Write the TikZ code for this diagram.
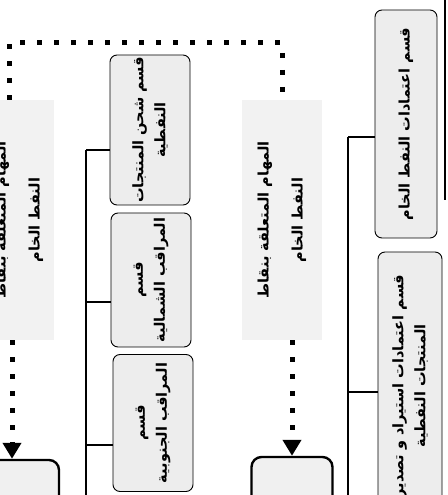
\documentclass[tikz,border=0pt]{standalone}
\usepackage{fontspec}
\newfontfamily\arabicfont[Script=Arabic]{DejaVu Sans}
\TeXXeTstate=1
\usetikzlibrary{arrows.meta}

\tikzset{
    section/.style={draw, line width=0.9pt, rounded corners=7pt, fill=black!7, rotate=90, align=center, inner sep=2pt, font=\arabicfont\bfseries\fontsize{14.5}{22}\selectfont},
    task/.style={fill=black!5, rotate=90, align=center, inner sep=2pt, font=\arabicfont\bfseries\fontsize{14.5}{34}\selectfont},
    unit/.style={draw, line width=2.4pt, rounded corners=10pt, fill=black!6},
    link/.style={line width=1.6pt},
    dotline/.style={line width=5pt, dash pattern=on 5pt off 12pt},
    dotarrow/.style={dotline, -{Triangle[width=18pt,length=16pt]}}
}

\begin{document}
\begin{tikzpicture}[x=1pt, y=1pt]
    \useasboundingbox (0,0) rectangle (447,495);
    \clip (0,0) rectangle (447,495);

    % Right column
    \node[section, minimum width=228pt, minimum height=62pt] (crude) at (406,371) {\beginR قسم اعتمادات النفط الخام\endR};
    \node[section, minimum width=268pt, minimum height=64pt] (imports) at (410,109) {\beginR قسم اعتمادات استيراد و تصدير\endR \\ \beginR المنتجات النفطية\endR};
    \coordinate (rtop) at (348,358);
    \coordinate (rmid) at (348,103);
    \coordinate (rend) at (348,-5);
    \draw[link] (rtop) -- (rend);
    \draw[link] (rtop) -- (rtop -| crude.north);
    \draw[link] (rmid) -- (rmid -| imports.north);
    \draw[line width=2pt] (445,495) -- (445,295);

    % Middle column
    \node[section, minimum width=150pt, minimum height=80pt] (shipping) at (150,365) {\beginR قسم شحن المنتجات\endR \\ \beginR النفطية\endR};
    \node[section, minimum width=134pt, minimum height=80pt] (north) at (151,215) {\beginR قسم\endR \\ \beginR المراقب الشمالية\endR};
    \node[section, minimum width=137pt, minimum height=80pt] (south) at (153,72) {\beginR قسم\endR \\ \beginR المراقب الجنوبية\endR};
    \coordinate (mtop) at (86,345);
    \coordinate (mtwo) at (86,193);
    \coordinate (mthree) at (86,50);
    \coordinate (mend) at (86,-5);
    \draw[link] (mtop) -- (mend);
    \draw[link] (mtop) -- (mtop -| shipping.north);
    \draw[link] (mtwo) -- (mtwo -| north.north);
    \draw[link] (mthree) -- (mthree -| south.north);

    % Tasks
    \node[task, minimum width=240pt, minimum height=80pt] (midtask) at (282,275) {\beginR المهام المتعلقة بنقاط\endR \\ \beginR النفط الخام\endR};
    \node[task, minimum width=240pt, minimum height=70pt] (lefttask) at (19,275) {\beginR المهام المتعلقة بنقاط\endR \\ \beginR النفط الخام\endR};
    \node[unit, minimum width=81pt, minimum height=70pt] (midunit) at (292,3) {};
    \node[unit, minimum width=94pt, minimum height=70pt] (leftunit) at (12,0) {};

    % Dotted links
    \draw[dotline] ([xshift=-10pt]lefttask.east) -- ++(0,57) -| (midtask.east);
    \draw[dotarrow] (lefttask.west -| leftunit.north) -- (leftunit.north);
    \draw[dotarrow] (midtask.west -| midunit.north) -- (midunit.north);

\end{tikzpicture}
\end{document}
